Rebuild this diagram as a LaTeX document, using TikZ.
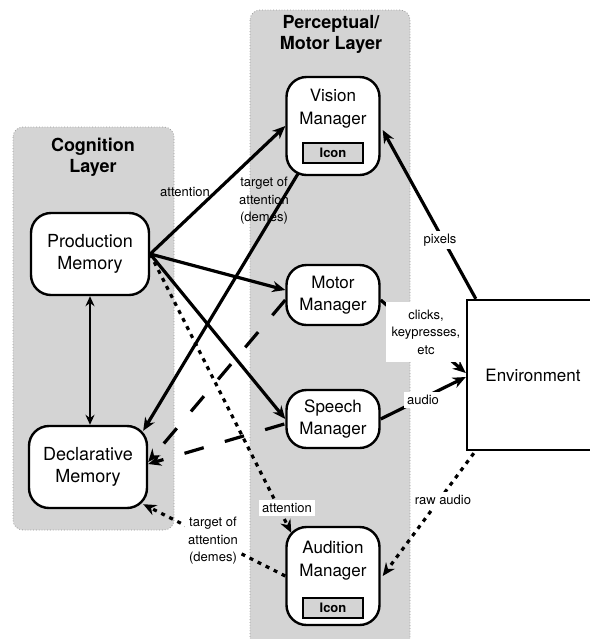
\documentclass[tikz,border=0pt]{standalone}
\usepackage{fontspec}
\setmainfont{TeX Gyre Heros}
\usepackage{tikz}
\usetikzlibrary{arrows.meta}

\begin{document}
\begin{tikzpicture}[x=0.5pt, y=-0.5pt,
    layerbg/.style={draw=black!40, densely dotted, fill=black!17, rounded corners=5pt},
    layertitle/.style={font=\fontsize{9}{10.5}\selectfont\bfseries, align=center},
    memory/.style={draw, solid, line width=1.2pt, fill=white, rounded corners=10pt, minimum width=59pt, minimum height=41pt, align=center, font=\fontsize{9}{11}\selectfont},
    manager/.style={draw, solid, line width=1.2pt, fill=white, rounded corners=10pt, minimum width=46.5pt, align=center, font=\fontsize{8.5}{11}\selectfont},
    mgrtext/.style={align=center, font=\fontsize{8.5}{11.5}\selectfont},
    iconbox/.style={draw, line width=1.2pt, fill=black!17, minimum width=30pt, minimum height=10pt, inner sep=0pt, font=\fontsize{6.5}{7}\selectfont\bfseries},
    flow/.style={line width=1.6pt, -{Stealth[length=6.5pt, width=5.5pt]}},
    dashflow/.style={flow, dash pattern=on 10pt off 11pt},
    dotflow/.style={flow, dash pattern=on 2pt off 2.5pt},
    edgelabel/.style={font=\fontsize{6.5}{8.7}\selectfont, align=center, inner sep=1.5pt}
]
    \useasboundingbox (0,0) rectangle (590,639);

    \draw[layerbg] (13,127) rectangle (174,530);
    \draw[layerbg] (250,10) rectangle (410,680);

    \node[layertitle] (cogtitle) at (93,157) {Cognition\\Layer};
    \node[layertitle] (pmtitle) at (331,34) {Perceptual/\\Motor Layer};

    \node[memory] (prod) at (90,254) {Production\\Memory};
    \node[memory] (decl) at (88,467) {Declarative\\Memory};

    \node[manager, minimum height=49pt] (vision) at (333,126) {};
    \node[mgrtext] (visiontext) at (333,109) {Vision\\Manager};
    \node[iconbox] (visionicon) at (333,153) {Icon};

    \node[manager, minimum height=30pt] (motor) at (333,295) {Motor\\Manager};
    \node[manager, minimum height=29pt] (speech) at (333,419) {Speech\\Manager};

    \node[manager, minimum height=49pt] (audition) at (333,576) {};
    \node[mgrtext] (auditiontext) at (333,561) {Audition\\Manager};
    \node[iconbox] (auditionicon) at (333,608) {Icon};

    \node[draw, line width=1.2pt, fill=white, minimum width=66pt, minimum height=75pt, font=\fontsize{8.5}{10}\selectfont] (env) at (533,375) {Environment};

    \draw[line width=1pt, {Stealth[length=5pt, width=4.5pt]}-{Stealth[length=5pt, width=4.5pt]}] (prod.south) -- (prod.south |- decl.north);
    \draw[flow] (prod.east) -- (vision.west);
    \draw[flow] (prod.east) -- ([shift={(0,-5)}]motor.west);
    \draw[flow] (prod.east) -- (speech.west);
    \draw[dotflow] (prod.east) -- ([shift={(6,7)}]audition.north west);
    \draw[flow] ([shift={(13,-3)}]vision.south west) -- ([shift={(-5,6)}]decl.north east);
    \draw[dashflow] ([shift={(0,5)}]motor.west) -- ([shift={(0,-5)}]decl.east);
    \draw[dashflow] ([shift={(-1,5)}]speech.west) -- ([shift={(0,-3)}]decl.east);
    \draw[dotflow] (audition.west) -- ([shift={(-5,-5)}]decl.south east);

    \draw[flow] ([shift={(10,0)}]env.north west) -- ([shift={(2,4)}]vision.east);
    \draw[flow] ([shift={(0,5)}]motor.east) -- ([shift={(0,-2)}]env.west);
    \draw[flow] (speech.east) -- ([shift={(0,2)}]env.west);
    \draw[dotflow] ([shift={(8,2)}]env.south west) -- ([shift={(2,0)}]audition.east);

    \node[edgelabel] (attvision) at (185,192) {attention};
    \node[edgelabel] (targetvision) at (264,201) {target of\\attention\\(demes)};
    \node[edgelabel, fill=white] (pixels) at (440,240) {pixels};
    \node[edgelabel, fill=white, inner xsep=3pt, inner ysep=4pt] (clicks) at (426,332) {clicks,\\keypresses,\\etc};
    \node[edgelabel, fill=white] (audiolabel) at (423,400) {audio};
    \node[edgelabel, fill=white] (rawaudio) at (443,500) {raw audio};
    \node[edgelabel, fill=white] (attaudition) at (287,508) {attention};
    \node[edgelabel, fill=white] (targetaudition) at (213,541) {target of\\attention\\(demes)};
\end{tikzpicture}
\end{document}
